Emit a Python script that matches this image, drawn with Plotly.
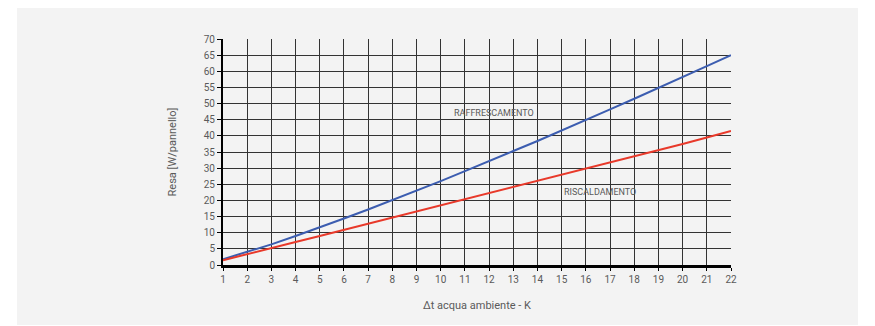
import plotly.graph_objects as go

x_vals = list(range(1, 23))
raffrescamento = [1.8, 4.0, 6.4, 9.0, 11.6, 14.4, 17.2, 20.1, 23.0, 26.0, 29.1,
                  32.1, 35.3, 38.4, 41.6, 44.9, 48.2, 51.5, 54.8, 58.2, 61.6, 65.0]
riscaldamento = [1.5, 3.3, 5.2, 7.1, 9.0, 10.9, 12.7, 14.6, 16.5, 18.4, 20.3,
                 22.1, 24.0, 25.9, 27.8, 29.8, 31.7, 33.6, 35.6, 37.5, 39.5, 41.5]
y_ticks = list(range(0, 75, 5))
series_labels = ["RAFFRESCAMENTO", "RISCALDAMENTO"]
label_pos = [(12.2, 47.1), (16.6, 22.6)]

FONT = "Roboto, sans-serif"
TXT = "#5a5a5a"

fig = go.Figure()
fig.add_trace(go.Scatter(x=x_vals, y=raffrescamento, mode="lines",
                         line=dict(color="#3c5db0", width=2), showlegend=False))
fig.add_trace(go.Scatter(x=x_vals, y=riscaldamento, mode="lines",
                         line=dict(color="#e8392a", width=2), showlegend=False))

for lab, (lx, ly) in zip(series_labels, label_pos):
    fig.add_annotation(x=lx, y=ly, text=lab, showarrow=False,
                       font=dict(family=FONT, size=9, color=TXT))

fig.add_shape(type="rect", xref="paper", yref="paper",
              x0=-0.4055, x1=1.25, y0=-0.265, y1=1.1416,
              fillcolor="#f3f3f3", line=dict(width=0), layer="below")

fig.update_layout(
    width=867, height=318,
    margin=dict(l=215, r=144, t=31, b=61, autoexpand=False),
    paper_bgcolor="white", plot_bgcolor="rgba(0,0,0,0)",
    font=dict(family=FONT, size=10, color=TXT),
)
fig.update_xaxes(range=[1, 22], tickvals=x_vals, showgrid=True,
                 gridcolor="#333333", gridwidth=1.4, zeroline=False,
                 showline=True, linecolor="black", linewidth=3,
                 ticks="outside", ticklen=3, tickcolor="black",
                 tickfont=dict(family=FONT, size=10, color=TXT),
                 title=dict(text="Δt acqua ambiente - K", standoff=18,
                            font=dict(family=FONT, size=11, color=TXT)),
                 automargin=False)
fig.update_yaxes(range=[0, 70], tickvals=y_ticks, showgrid=True,
                 gridcolor="#333333", gridwidth=1.4, zeroline=False,
                 showline=True, linecolor="black", linewidth=2,
                 ticks="outside", ticklen=4, tickcolor="black",
                 tickfont=dict(family=FONT, size=10, color=TXT),
                 title=dict(text="Resa [W/pannello]", standoff=25,
                            font=dict(family=FONT, size=11, color=TXT)),
                 automargin=False)

fig.write_html("out.html")
